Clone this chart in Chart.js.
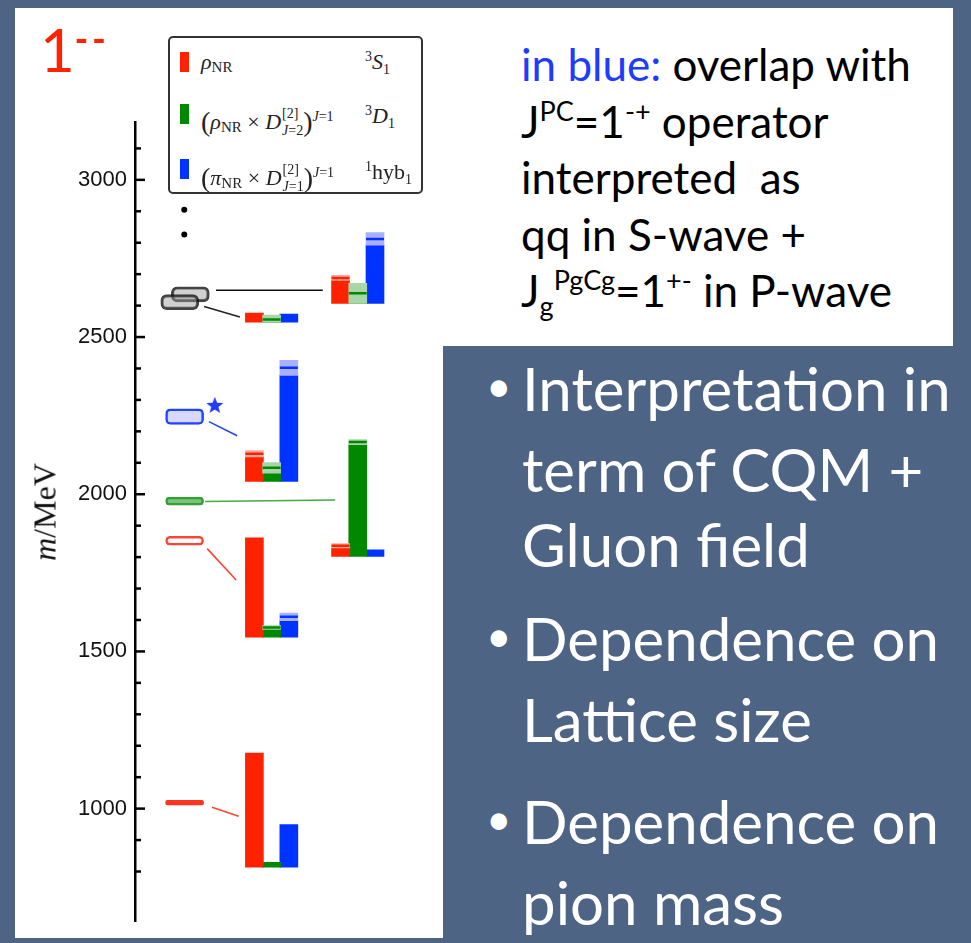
<!DOCTYPE html>
<html>
<head>
<meta charset="utf-8">
<script src="https://cdn.jsdelivr.net/npm/chart.js@4.4.1/dist/chart.umd.min.js"></script>
<style>
  body { margin: 0; width: 971px; height: 943px; background: #4e6484; position: relative; overflow: hidden; font-family: Lato, sans-serif; }
  .panel { position: absolute; background: #fff; }
  #chartWrap { position: absolute; left: 15px; top: 8px; width: 428px; height: 935px; }
  #title1 { position: absolute; left: 40px; top: 19px; font-size: 60px; line-height: 60px; color: #ff2200; }
  #title1 sup { font-size: 36px; font-weight: 900; line-height: 0; vertical-align: 20px; letter-spacing: 4px; margin-left: 0; }
  #ylab { position: absolute; left: 45px; top: 512px; transform: translate(-50%, -50%) rotate(-90deg); white-space: nowrap;
          font-family: "Liberation Serif", serif; font-size: 32px; color: #111; }
  #legend { position: absolute; left: 168px; top: 36px; width: 255px; height: 158px; box-sizing: border-box;
            border: 2px solid #333; border-radius: 5px; background: #fff; font-family: "Liberation Serif", serif; color: #222; }
  #legend .sw { position: absolute; left: 10px; width: 9px; height: 20px; }
  #legend .tx { position: absolute; left: 31px; font-size: 22px; line-height: 22px; white-space: nowrap; }
  #legend .qn { position: absolute; left: 195px; font-size: 22px; line-height: 22px; white-space: nowrap; }
  #legend sub, #legend sup { font-size: 14px; line-height: 0; }
  #legend .nr { font-size: 15px; position: relative; top: 3px; }
  #legend .par { font-size: 28px; position: relative; top: 2px; }
  #legend .ss { display: inline-flex; flex-direction: column; font-size: 14px; line-height: 17px; vertical-align: 11px; margin-left: 1px; }
  #note { position: absolute; left: 521px; top: 36px; font-size: 44px; line-height: 56.5px; color: #000; white-space: nowrap; }
  #note sup { font-size: 27px; line-height: 0; vertical-align: 17px; }
  #note sub { font-size: 27px; line-height: 0; vertical-align: -9px; }
  .bullet { position: absolute; left: 486px; width: 480px; font-size: 60px; line-height: 75px; color: #fff;
            padding-left: 36px; text-indent: -36px; white-space: nowrap; }
  .bullet .dot { display: inline-block; width: 36px; text-indent: 0; font-size: 44px; position: relative; top: -9px; }
</style>
</head>
<body>
<div class="panel" style="left:15px; top:8px; width:938px; height:338px;"></div>
<div class="panel" style="left:15px; top:8px; width:428px; height:930px;"></div>

<div id="chartWrap"><canvas id="massChart" width="428" height="935"></canvas></div>

<div id="title1">1<sup>--</sup></div>
<div id="ylab"><i>m</i>/MeV</div>

<div id="legend">
  <div class="sw" style="top:14px; background:#ff2200;"></div>
  <div class="tx" style="top:13px;"><i>ρ</i><span class="nr">NR</span></div>
  <div class="qn" style="top:13px;"><sup>3</sup><i>S</i><sub>1</sub></div>

  <div class="sw" style="top:66px; background:#008800;"></div>
  <div class="tx" style="top:67px;"><span class="par">(</span><i>ρ</i><span class="nr">NR</span> × <i>D</i><span class="ss"><span>[2]</span><span><i>J</i>=2</span></span><span class="par">)</span><sup><i>J</i>=1</sup></div>
  <div class="qn" style="top:67px;"><sup>3</sup><i>D</i><sub>1</sub></div>

  <div class="sw" style="top:121px; background:#0033ff;"></div>
  <div class="tx" style="top:123px;"><span class="par">(</span><i>π</i><span class="nr">NR</span> × <i>D</i><span class="ss"><span>[2]</span><span><i>J</i>=1</span></span><span class="par">)</span><sup><i>J</i>=1</sup></div>
  <div class="qn" style="top:123px;"><sup>1</sup>hyb<sub>1</sub></div>
</div>

<div id="note">
  <div><span style="color:#1e3cff;">in blue:</span> overlap with</div>
  <div>J<sup>PC</sup>=1<sup>-+</sup> operator</div>
  <div>interpreted&nbsp; as</div>
  <div>qq in S-wave +</div>
  <div>J<sub>g</sub><sup>PgCg</sup>=1<sup>+-</sup> in P-wave</div>
</div>

<div class="bullet" style="top:351px;"><span class="dot">•</span>Interpretation in<br>term of CQM +<br>Gluon field</div>
<div class="bullet" style="top:601px;"><span class="dot">•</span>Dependence on<br>Lattice size</div>
<div class="bullet" style="top:784px;"><span class="dot">•</span>Dependence on<br>pion mass</div>

<script>
// axis ranges (MeV on y, bar columns on x)
const yMin = 640, yMax = 3184;
const xMin = -6.93, xMax = 10.28;
const yStep = 100, yLabelStep = 500;

// lattice states: base mass and bar column of each group
const stateMass = [814, 1545, 1802, 2041, 2547, 2607];
const stateCol = [0, 0, 5, 0, 0, 5];

// overlaps, drawn as bar tops (MeV) with their uncertainty
const rhoTop = [1177, 1861, 1836, 2129, 2576, 2688];
const rhoErr = [0, 0, 7, 10, 0, 8];
const rhoDTop = [829, 1576, 2166, 2084, 2556, 2639];
const rhoDErr = [0, 6, 8, 17, 14, 32];
const piDTop = [949, 1610, 1823, 2402, 2573, 2812];
const piDErr = [0, 12, 0, 24, 0, 20];

// experimental states on the left
const expX = [-4.05, -4.05, -4.05, -4.05, -3.72, -4.33];
const expMass = [1019, 1852, 1978, 2247, 2636, 2611];
const expErr = [7, 14, 13, 25, 24, 24];
const dotX = [-4.07, -4.07];
const dotMass = [2905, 2826];
const starX = [-2.3];
const starMass = [2284];

// lines linking experiment to lattice states
const linkX = [[-2.23, 3.97], [-2.92, -0.84], [-2.64, -1.0], [-2.85, 4.69], [-2.74, -1.06], [-2.46, -0.91]];
const linkMass = [[2649, 2649], [2597, 2564], [2231, 2186], [1977, 1982], [1827, 1727], [1004, 976]];
const linkColor = ['#111', '#222', '#2244ff', '#44aa44', '#ff4433', '#ff4433'];

const RED = '#ff2200', GREEN = '#008800', BLUE = '#0033ff';
const series = [
  {top: rhoTop, err: rhoErr, off: 0, solid: RED, light: '#ffa89c'},
  {top: rhoDTop, err: rhoDErr, off: 1, solid: GREEN, light: '#a8d6a8'},
  {top: piDTop, err: piDErr, off: 2, solid: BLUE, light: '#a9b1ff'}
];

const datasets = [];
series.forEach(s => {
  datasets.push({
    type: 'bar', order: 3, grouped: false, barThickness: 18, backgroundColor: s.solid,
    data: stateMass.map((b, i) => ({x: stateCol[i] + s.off, y: [b, Math.max(b, s.top[i] - s.err[i])]}))
  });
  datasets.push({
    type: 'bar', order: 2, grouped: false, barThickness: 18, backgroundColor: s.light,
    data: stateMass.map((b, i) => ({x: stateCol[i] + s.off, y: [Math.max(b, s.top[i] - s.err[i]), s.top[i] + s.err[i]]}))
      .filter((d, i) => s.err[i] > 0)
  });
  datasets.push({
    type: 'scatter', order: 1, pointStyle: 'line', pointRadius: 9, pointBorderWidth: 2.5,
    pointBorderColor: s.solid, pointBackgroundColor: s.solid,
    data: stateMass.map((b, i) => ({x: stateCol[i] + s.off, y: s.top[i]})).filter((d, i) => s.err[i] > 0)
  });
});

datasets.push({
  type: 'bar', order: 2, grouped: false, barThickness: 38, borderSkipped: false,
  borderRadius: [3, 5, 5, 5, 6, 6],
  borderWidth: [0, 2.5, 2.5, 2.5, 2.5, 2.5],
  backgroundColor: ['#ff3322', '#ffffff', '#7cc27c', '#d6d8ff', 'rgba(150,150,150,0.45)', 'rgba(150,150,150,0.45)'],
  borderColor: ['#ff3322', '#ff4433', '#33a033', '#2244ff', 'rgba(20,20,20,0.8)', 'rgba(20,20,20,0.8)'],
  data: expMass.map((m, i) => ({x: expX[i], y: [m - expErr[i], m + expErr[i]]}))
});

linkX.forEach((xs, i) => {
  datasets.push({
    type: 'line', order: 5, borderColor: linkColor[i], borderWidth: i === 3 ? 1.5 : 1.6, pointRadius: 0,
    data: xs.map((x, j) => ({x: x, y: linkMass[i][j]}))
  });
});

datasets.push({
  type: 'scatter', order: 0, pointRadius: 3, pointBackgroundColor: '#000', pointBorderWidth: 0,
  data: dotX.map((x, i) => ({x: x, y: dotMass[i]}))
});

// filled five-point star used as point style
const star = document.createElement('canvas');
star.width = 18; star.height = 18;
(function () {
  const c = star.getContext('2d');
  c.fillStyle = '#1f3cff';
  c.beginPath();
  for (let k = 0; k < 10; k++) {
    const r = k % 2 ? 3.8 : 9, a = -Math.PI / 2 + k * Math.PI / 5;
    c.lineTo(9 + r * Math.cos(a), 9.8 + r * Math.sin(a));
  }
  c.closePath(); c.fill();
})();
datasets.push({
  type: 'scatter', order: 0, pointStyle: star,
  data: starX.map((x, i) => ({x: x, y: starMass[i]}))
});

// tick marks drawn inside the axis, long ones at labelled values
const innerTicks = {
  id: 'innerTicks',
  afterDraw(chart) {
    const s = chart.scales.y, ctx = chart.ctx;
    ctx.save();
    ctx.strokeStyle = '#000';
    ctx.lineWidth = 2.5;
    s.ticks.forEach(t => {
      if (t.value % yStep) return;
      const y = s.getPixelForValue(t.value);
      ctx.beginPath();
      ctx.moveTo(s.right, y);
      ctx.lineTo(s.right + (t.value % yLabelStep ? 6 : 10), y);
      ctx.stroke();
    });
    ctx.restore();
  }
};

new Chart(document.getElementById('massChart'), {
  type: 'bar',
  data: {datasets: datasets},
  plugins: [innerTicks],
  options: {
    responsive: false,
    animation: false,
    layout: {padding: {top: 114, bottom: 16, left: 0, right: 0}},
    plugins: {legend: {display: false}, tooltip: {enabled: false}},
    scales: {
      x: {type: 'linear', display: false, min: xMin, max: xMax, offset: false},
      y: {
        min: yMin, max: yMax,
        border: {display: true, color: '#000', width: 2.5},
        grid: {display: false, drawTicks: false},
        ticks: {
          stepSize: yStep, autoSkip: false, padding: 8, color: '#111',
          font: {family: 'Liberation Sans', size: 22},
          callback: v => (v % yLabelStep === 0 ? v : '')
        },
        afterFit: s => { s.width = 120; }
      }
    }
  }
});
</script>
</body>
</html>
